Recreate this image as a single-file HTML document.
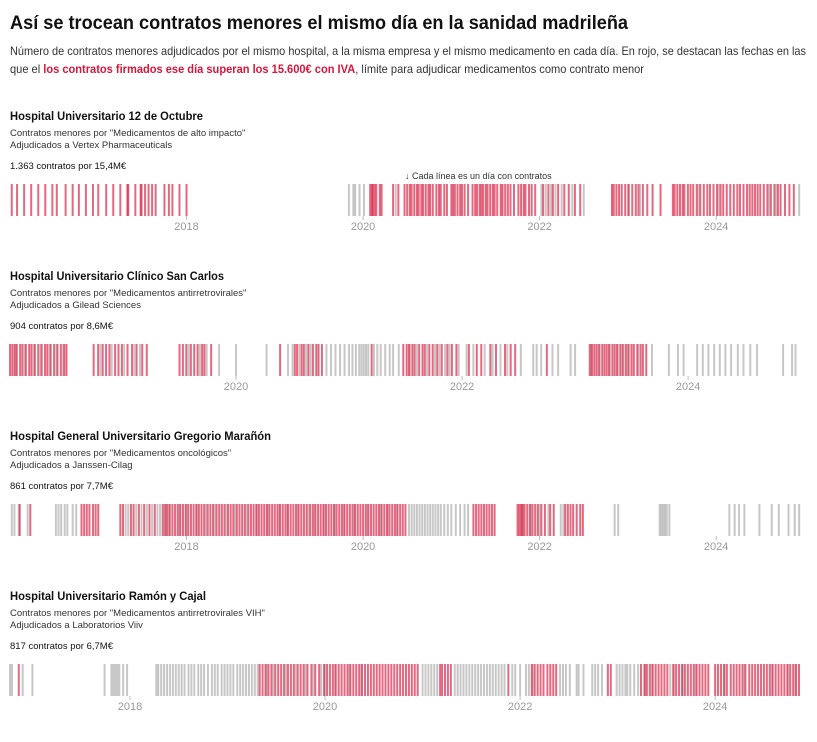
<!DOCTYPE html>
<html lang="es"><head><meta charset="utf-8">
<style>
html,body{margin:0;padding:0;background:#fff;}
svg{display:block;font-family:"Liberation Sans",sans-serif;}
</style></head>
<body>
<svg id="chart" width="817" height="742" viewBox="0 0 817 742" xmlns="http://www.w3.org/2000/svg">
<text x="10" y="29" font-size="19" font-weight="bold" fill="#111" textLength="618" lengthAdjust="spacingAndGlyphs">Así se trocean contratos menores el mismo día en la sanidad madrileña</text>
<text x="10" y="55" font-size="12" fill="#333" textLength="796" lengthAdjust="spacingAndGlyphs">Número de contratos menores adjudicados por el mismo hospital, a la misma empresa y el mismo medicamento en cada día. En rojo, se destacan las fechas en las</text>
<text x="10" y="73" font-size="12" fill="#333" textLength="634" lengthAdjust="spacingAndGlyphs">que el <tspan font-weight="bold" fill="#d6173c">los contratos firmados ese día superan los 15.600€ con IVA</tspan>, límite para adjudicar medicamentos como contrato menor</text>
<text x="405" y="179" font-size="9" fill="#333">↓ Cada línea es un día con contratos</text>
<g id="panels"></g>
</svg>
<script>
// Panel 1: 12 de Octubre
const p1Red = [2016.02,2016.08,2016.16,2016.24,2016.32,2016.40,2016.48,2016.53,2016.63,2016.71,2016.78,2016.86,2016.94,2017.00,2017.09,2017.17,2017.25,2017.33,2017.34,2017.42,2017.48,2017.49,2017.53,2017.57,2017.61,2017.65,2017.75,2017.80,2017.84,2017.92,2018.00,
2020.08,2020.10,2020.11,2020.13,2020.15,2020.19,2020.21,2020.34,2020.40,
2020.47,2020.50,2020.53,2020.55,2020.58,2020.61,2020.63,2020.66,2020.68,2020.71,2020.74,2020.76,2020.79,2020.83,2020.86,2020.88,2020.92,2020.95,
2021.00,2021.02,2021.04,2021.07,2021.10,2021.12,2021.15,2021.19,
2021.24,2021.27,2021.29,2021.32,2021.34,2021.36,2021.39,2021.41,2021.44,2021.47,2021.49,2021.52,
2021.56,2021.58,2021.61,2021.64,2021.67,2021.71,2021.76,2021.79,2021.82,2021.84,2021.88,2021.91,2021.95,
2022.04,2022.10,2022.15,2022.21,2022.28,2022.33,2022.40,2022.46,
2022.82,2022.84,2022.87,2022.90,2022.93,2022.97,2023.01,2023.05,2023.09,2023.12,2023.17,2023.22,2023.28,2023.37,
2023.51,2023.53,2023.56,2023.59,2023.62,2023.64,2023.68,2023.71,2023.74,2023.78,2023.82,2023.86,2023.90,2023.93,2023.97,2024.01,2024.05,2024.08,2024.12,2024.16,2024.20,2024.24,2024.27,2024.31,2024.35,2024.38,2024.41,2024.44,2024.47,2024.50,2024.54,2024.58,2024.62,2024.66,2024.70,2024.73,2024.78,2024.83,2024.88];
const p1Gray = [2019.84,2019.89,2019.91,2019.96,2020.01,2020.37,2022.02,2022.07,2022.13,2022.18,2022.25,2022.37,2022.50,2023.00,2023.14,2023.80,2024.03,2024.60,2024.68,2024.94];
// Panel 2: Clínico San Carlos
const p2Red = [2018.00,2018.02,2018.04,2018.06,2018.09,2018.11,2018.14,2018.17,2018.19,2018.22,2018.25,2018.28,2018.31,2018.33,2018.36,2018.39,2018.42,2018.45,2018.48,2018.50,
2018.74,2018.78,2018.82,2018.85,2018.88,2018.93,2018.96,2018.99,2019.04,2019.08,2019.12,2019.17,2019.21,
2019.50,2019.53,2019.56,2019.60,2019.63,2019.66,2019.70,2019.72,2019.78,2020.39,
2020.52,2020.54,2020.58,2020.60,2020.64,2020.68,2020.71,2020.73,2020.76,2021.20,
2021.48,2021.51,2021.53,2021.56,2021.58,2021.62,2021.65,2021.67,2021.71,2021.74,2021.78,2021.82,2021.87,2021.91,2021.95,
2022.06,2022.13,2022.17,2022.25,2022.30,2022.38,2022.43,2022.47,2022.75,
2023.13,2023.15,2023.17,2023.19,2023.21,2023.24,2023.26,2023.28,2023.30,2023.33,2023.35,2023.37,2023.40,2023.42,2023.45,2023.47,2023.50,2023.52,2023.55,2023.58,2023.60,2023.63];
const p2Gray = [2018.05,2018.13,2018.21,2018.27,2018.35,2018.41,2018.47,2018.80,2018.90,2019.01,2019.10,2019.15,2019.58,2019.68,2019.74,2019.85,2020.00,2020.27,
2020.46,2020.50,2020.56,2020.62,2020.66,2020.80,2020.84,2020.88,2020.92,2020.96,2021.00,2021.03,2021.06,2021.09,2021.11,2021.13,2021.15,2021.17,2021.22,2021.25,2021.28,2021.32,2021.36,2021.39,2021.44,
2021.54,2021.60,2021.69,2021.76,2021.80,2021.85,2021.89,2021.97,2022.04,2022.10,2022.20,2022.27,2022.34,2022.40,2022.52,
2022.63,2022.66,2022.70,2022.80,2022.85,2022.96,2023.00,2023.14,2023.22,2023.31,2023.38,2023.43,2023.48,2023.56,
2023.68,2023.83,2023.91,2023.96,2024.08,2024.13,2024.18,2024.23,2024.28,2024.33,2024.38,2024.44,2024.49,2024.55,2024.61,2024.84,2024.92,2024.95];
// Panel 3: Gregorio Marañón
const p3Red = [2016.11,2016.23,2016.81,2016.84,2016.87,2016.90,2016.94,2016.97,2017.00,
2017.25,2017.28,2017.37,2017.40,2017.46,2017.52,2017.58,2017.64,
2017.73,2017.76,2017.78,2017.81,2017.84,2017.87,2017.90,2017.93,2017.96,2017.99,2018.02,2018.05,2018.08,2018.11,2018.14,2018.17,2018.20,2018.24,2018.27,2018.30,2018.34,2018.37,2018.40,2018.43,2018.47,2018.50,2018.53,2018.57,2018.60,2018.63,2018.66,2018.70,2018.73,2018.76,2018.79,2018.82,2018.85,2018.88,2018.91,2018.94,2018.97,2019.00,2019.03,2019.06,2019.09,2019.12,2019.15,2019.18,2019.21,2019.24,2019.27,2019.30,2019.33,2019.36,2019.40,2019.43,2019.46,2019.49,2019.52,2019.55,2019.58,2019.61,2019.64,2019.67,2019.70,2019.73,2019.76,2019.79,2019.82,2019.85,2019.88,2019.91,2019.94,2019.97,2020.00,2020.03,2020.06,2020.09,2020.12,2020.15,2020.18,2020.21,2020.24,2020.27,2020.30,2020.33,2020.36,2020.39,2020.42,2020.45,2020.48,
2021.25,2021.28,2021.31,2021.34,2021.37,2021.40,2021.43,2021.46,2021.49,
2021.75,2021.77,2021.79,2021.81,2021.83,2021.86,2021.89,2021.92,2021.95,2021.98,2022.02,2022.06,2022.12,2022.16,2022.29,2022.32,2022.35,2022.38,2022.42,2022.46,2022.49];
const p3Gray = [2016.02,2016.05,2016.10,2016.20,2016.52,2016.55,2016.58,2016.62,2016.65,2016.71,2016.75,
2017.31,2017.34,2017.43,2017.49,2017.55,2017.61,2017.67,2017.70,
2017.75,2017.80,2017.92,2018.00,2018.12,2018.22,2018.32,2018.45,2018.55,2018.68,2018.80,2018.92,2019.05,2019.14,2019.26,2019.38,2019.45,2019.56,2019.68,2019.78,2019.90,2020.05,2020.20,2020.28,2020.38,
2020.52,2020.55,2020.58,2020.61,2020.64,2020.67,2020.70,2020.73,2020.76,2020.79,2020.82,2020.85,2020.88,2020.92,2020.96,2021.00,2021.05,2021.10,2021.15,2021.19,
2021.80,2021.90,2022.00,2022.10,2022.24,2022.27,2022.85,2022.89,2023.36,2023.38,2023.40,2023.42,2023.44,2023.47,
2024.15,2024.21,2024.26,2024.32,2024.49,2024.63,2024.71,2024.82,2024.89,2024.94];
// Panel 4: Ramón y Cajal
const p4Red = [2016.86,
2019.33,2019.36,2019.39,2019.42,2019.45,2019.49,2019.52,2019.55,2019.58,2019.62,2019.65,2019.68,2019.72,2019.75,2019.78,2019.82,2019.86,2019.90,2019.94,2019.99,2020.02,2020.05,2020.08,2020.11,2020.14,2020.17,2020.20,2020.23,2020.26,2020.29,2020.32,2020.35,2020.38,2020.41,2020.44,2020.47,2020.50,2020.53,2020.56,2020.59,2020.62,2020.65,2020.68,2020.71,2020.74,2020.77,2020.80,2020.83,2020.86,2020.89,2020.92,2020.95,
2021.18,2021.20,2021.23,2021.26,2021.29,2021.88,
2022.12,2022.15,2022.18,2022.21,2022.24,2022.28,2022.31,2022.34,2022.37,2022.90,2022.93,
2023.24,2023.28,2023.30,2023.33,2023.36,2023.39,2023.42,2023.45,2023.48,2023.51,2023.57,2023.60,2023.63,2023.66,2023.69,2023.72,2023.75,2023.78,2023.81,2023.84,2023.87,2023.90,2023.93,
2024.00,2024.03,2024.06,2024.09,2024.12,2024.16,2024.19,2024.22,2024.25,2024.28,2024.31,2024.35,2024.38,2024.41,2024.44,2024.47,2024.50,2024.53,2024.56,2024.59,2024.62,2024.65,2024.68,2024.71,2024.74,2024.77,2024.80,2024.83,2024.86];
const p4Gray = [2016.77,2016.79,2016.90,2017.00,2017.74,2017.81,2017.83,2017.85,2017.87,2017.89,2017.93,2017.97,
2018.27,2018.29,2018.32,2018.35,2018.38,2018.41,2018.44,2018.47,2018.50,2018.53,2018.56,2018.60,2018.63,2018.66,2018.70,2018.73,2018.76,2018.80,2018.84,2018.87,2018.90,2018.94,2018.97,2019.00,2019.03,2019.06,2019.10,2019.13,2019.16,2019.19,2019.22,2019.25,2019.28,2019.31,
2019.40,2019.47,2019.60,2019.70,2019.80,2019.88,2019.96,2020.00,2020.10,2020.25,2020.37,
2021.00,2021.03,2021.06,2021.09,2021.12,2021.15,2021.33,2021.36,2021.39,2021.42,2021.45,2021.48,2021.51,2021.54,2021.57,2021.60,2021.63,2021.66,2021.69,2021.72,2021.75,2021.78,2021.81,2021.84,2021.92,2021.95,2022.00,
2022.06,2022.09,2022.13,2022.41,2022.44,2022.47,2022.51,2022.58,2022.60,2022.65,2022.74,2022.77,2022.80,2022.84,2022.99,2023.02,2023.05,2023.08,2023.10,2023.13,2023.17,2023.21,
2023.27,2023.35,2023.54,2023.58,2023.67,2023.80,2024.10,2024.30,2024.58,2024.75,2024.82];

const panelTitles = ["Hospital Universitario 12 de Octubre","Hospital Universitario Clínico San Carlos","Hospital General Universitario Gregorio Marañón","Hospital Universitario Ramón y Cajal"];
const panelSub1 = ['Contratos menores por "Medicamentos de alto impacto"','Contratos menores por "Medicamentos antirretrovirales"','Contratos menores por "Medicamentos oncológicos"','Contratos menores por "Medicamentos antirretrovirales VIH"'];
const panelSub2 = ["Adjudicados a Vertex Pharmaceuticals","Adjudicados a Gilead Sciences","Adjudicados a Janssen-Cilag","Adjudicados a Laboratorios Viiv"];
const panelCounts = ["1.363 contratos por 15,4M€","904 contratos por 8,6M€","861 contratos por 7,7M€","817 contratos por 6,7M€"];
const panelTicks = [[2018,2020,2022,2024],[2020,2022,2024],[2018,2020,2022,2024],[2018,2020,2022,2024]];
const panelDomain = [[2016.0,2024.95],[2018.0,2024.99],[2016.0,2024.95],[2016.77,2024.87]];
const redSets = [p1Red,p2Red,p3Red,p4Red];
const graySets = [p1Gray,p2Gray,p3Gray,p4Gray];
const titleWidths = [193,214,261,196];

const NS = "http://www.w3.org/2000/svg";
const root = document.getElementById("panels");
function mk(tag, attrs, parent){const e=document.createElementNS(NS,tag);for(const k in attrs)e.setAttribute(k,attrs[k]);parent.appendChild(e);return e;}
const X0 = 10, X1 = 800;
for (let i=0;i<4;i++){
  const oy = 160*i;
  const g = mk("g",{},root);
  
  
  const [d0,d1] = panelDomain[i];
  const xs = v => X0 + (v - d0) / (d1 - d0) * (X1 - X0);
  let t = mk("text",{x:10,y:120+oy,"font-size":11.5,"font-weight":"bold",fill:"#111",textLength:titleWidths[i],lengthAdjust:"spacingAndGlyphs"},g); t.textContent=panelTitles[i];
  
  
  t = mk("text",{x:10,y:136+oy,"font-size":9.5,fill:"#333"},g); t.textContent=panelSub1[i];
  
  
  t = mk("text",{x:10,y:148+oy,"font-size":9.5,fill:"#333"},g); t.textContent=panelSub2[i];
  
  
  t = mk("text",{x:10,y:169+oy,"font-size":9.5,fill:"#111"},g); t.textContent=panelCounts[i];
  
  
  const bars = mk("g",{},g);
  
  
  graySets[i].forEach(v=>{
    const l = mk("rect",{x:(xs(v)-1).toFixed(2),y:184+oy,width:2,height:32,fill:"#999","fill-opacity":0.55},bars);
    
    
  });
  redSets[i].forEach(v=>{
    const l = mk("rect",{x:(xs(v)-1).toFixed(2),y:184+oy,width:2,height:32,fill:"#d6173c","fill-opacity":0.65},bars);
    
    
  });
  panelTicks[i].forEach(yr=>{
    const x = xs(yr);
    const tk = mk("line",{x1:x,x2:x,y1:216+oy,y2:220+oy,stroke:"#bbb","stroke-width":1},g);
    
    
    const lb = mk("text",{x:x,y:230+oy,"font-size":11,fill:"#999","text-anchor":"middle"},g);
    lb.textContent = yr;
    
    
  });
}
</script>
</body></html>
